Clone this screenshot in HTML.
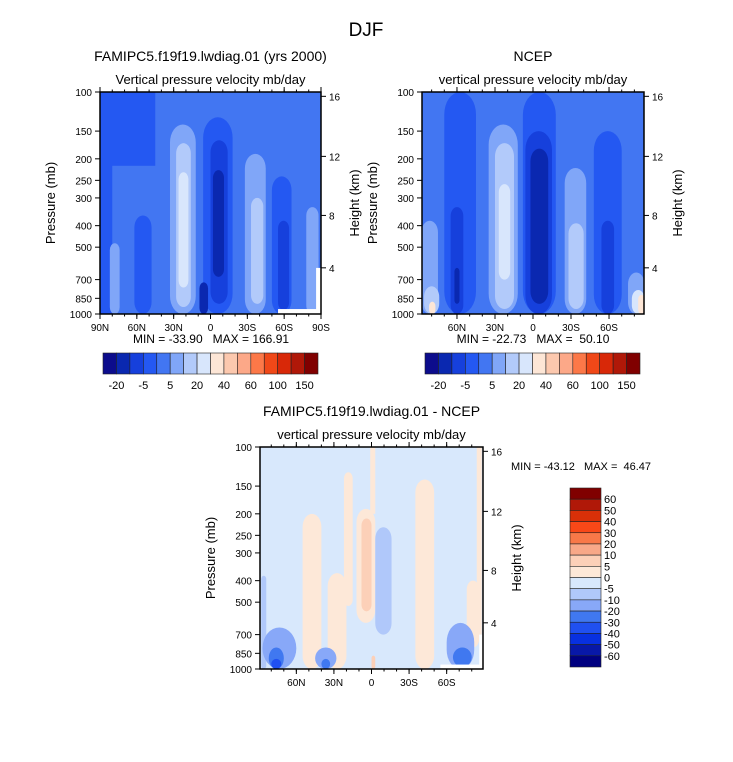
<!DOCTYPE html>
<html><head><meta charset="utf-8"><style>
html,body{margin:0;padding:0;background:#fff;}
svg{display:block;font-family:"Liberation Sans",sans-serif;}
text{white-space:pre;}
</style></head><body>
<svg id="fig" width="733" height="762" viewBox="0 0 733 762" xmlns="http://www.w3.org/2000/svg">
<text x="366" y="36" font-size="19" text-anchor="middle">DJF</text>
</svg>
<script>
// ---- data ----
const pressureTicks = [100,150,200,250,300,400,500,700,850,1000];
const heightTicks = [16,12,8,4];
const heightFrac = [0.0195,0.29,0.556,0.792];
const latTicksFull = [90,60,30,0,-30,-60,-90];
const latLabelsFull = ["90N","60N","30N","0","30S","60S","90S"];
const latTicksInner = [60,30,0,-30,-60];
const latLabelsInner = ["60N","30N","0","30S","60S"];
const absColors = ["#0c0c8c","#0a28b0","#1640dc","#2458f2","#4276f2","#80a6f8","#b2cafa","#d8e6fc","#fde6d6","#fcc8ae","#fca888","#fc7848","#f04818","#d82808","#b01808","#800000"];
const absLabels = ["-20","-5","5","20","40","60","100","150"];
const diffColors = ["#000080","#0818a8","#0830e0","#2050f0","#4078f0","#88a8f8","#b0c8fa","#d8e8fc","#fde8d8","#fcd0b8","#f8a888","#f87848","#f84818","#d83008","#b01808","#800000"];
const diffLabels = ["-60","-50","-40","-30","-20","-10","-5","0","5","10","20","30","40","50","60"];
// blobs: [latNorth, latSouth, pTop, pBottom, level, square]
const modelBlobs = [
 [90,45,100,215,3,1],[90,80,100,1000,3,1],[62,48,360,1000,3,0],[82,74,480,1000,5,0],
 [33,12,140,1000,5,0],[28,16,170,930,6,0],[26,18,230,760,7,0],
 [6,-18,130,1000,3,0],[0,-14,165,900,2,0],[-2,-11,225,680,1,0],[9,2,720,1000,1,0],
 [-28,-45,190,1000,5,0],[-33,-43,300,900,6,0],
 [-50,-66,240,1000,3,0],[-55,-64,380,960,2,0],[-78,-88,330,1000,5,0]
];
const ncepBlobs = [
 [70,45,100,1000,3,0],[65,55,330,1000,2,0],[62,58,620,900,1,0],
 [88,75,380,1000,5,0],[86,74,750,1000,6,0],[82,77,880,1000,8,0],
 [35,12,140,1000,5,0],[30,15,170,950,6,0],[27,18,260,700,7,0],
 [8,-18,100,1000,3,0],[6,-15,150,1000,2,0],[2,-12,180,900,1,0],
 [-25,-42,220,1000,5,0],[-28,-40,390,950,6,0],
 [-48,-70,150,1000,3,0],[-54,-64,380,1000,2,0],
 [-75,-88,650,1000,5,0],[-78,-88,780,1000,7,0],[-83,-88,820,1000,8,0]
];
const diffBlobs = [
 [88,84,380,1000,6,0],[87,60,650,1000,5,0],[82,70,800,1000,4,0],[80,72,900,1000,3,0],
 [55,40,200,1000,8,0],[35,20,370,1000,8,0],[22,15,130,520,8,0],
 [12,-3,190,620,8,0],[1,-3,100,200,8,1],[8,0,210,550,9,0],[0,-3,870,1000,9,0],
 [-3,-16,230,700,6,0],[45,28,800,1000,5,0],[40,33,900,1000,4,0],
 [-35,-50,140,1000,8,0],[-84,-88,100,700,8,1],[-76,-86,400,800,8,0],
 [-60,-82,620,1000,5,0],[-65,-80,800,980,4,0]
];
// ---- drawing ----
const NS="http://www.w3.org/2000/svg";
const svg=document.getElementById('fig');
function el(tag,attrs,parent){const e=document.createElementNS(NS,tag);for(const k in attrs)e.setAttribute(k,attrs[k]);(parent||svg).appendChild(e);return e;}
function txt(x,y,s,size,anchor,parent){const t=el('text',{x:x,y:y,'font-size':size,'text-anchor':anchor||'middle'},parent);t.textContent=s;return t;}

function panel(id,L,T,W,H,latMax,bgLevel,colors,blobs,title,sub,latTicks,latLabels,whiteRects){
 const g=el('g',{});
 
 
 const xs=lat=>L+(latMax-lat)/(2*latMax)*W;
 const ys=p=>T+Math.log10(p/100)*H;
 const cp=el('clipPath',{id:id+'-clip'},g);el('rect',{x:L,y:T,width:W,height:H},cp);
 const inner=el('g',{'clip-path':'url(#'+id+'-clip)'},g);
 el('rect',{x:L,y:T,width:W,height:H,fill:colors[bgLevel]},inner);
 blobs.forEach(b=>{
  const x1=xs(b[0]),x2=xs(b[1]),y1=ys(b[2]),y2=ys(b[3]);
  const w=Math.max(1,x2-x1),h=Math.max(1,y2-y1);
  const rx=b[5]?0:w/2, ry=b[5]?0:Math.min(h/2,w*0.7);
  const r=el('rect',{x:x1,y:y1,width:w,height:h,rx:rx,ry:ry,fill:colors[b[4]]},inner);
  
  
 });
 whiteRects.forEach(b=>{el('rect',{x:xs(b[0]),y:ys(b[2]),width:xs(b[1])-xs(b[0]),height:ys(b[3])-ys(b[2]),fill:'#fff'},inner);});
 el('rect',{x:L,y:T,width:W,height:H,fill:'none',stroke:'#000','stroke-width':1.5},g);
 pressureTicks.forEach(p=>{const y=ys(p);el('line',{x1:L-5,y1:y,x2:L,y2:y,stroke:'#000'},g);txt(L-8,y+4,String(p),10,'end',g);});
 const yl=txt(0,0,'Pressure (mb)',13,'middle',g);yl.setAttribute('transform','translate('+(L-45)+','+(T+H/2)+') rotate(-90)');
 
 heightTicks.forEach((z,i)=>{const y=T+heightFrac[i]*H;el('line',{x1:L+W,y1:y,x2:L+W+5,y2:y,stroke:'#000'},g);txt(L+W+8,y+4,String(z),10,'start',g);});
 const hl=txt(0,0,'Height (km)',13,'middle',g);hl.setAttribute('transform','translate('+(L+W+38)+','+(T+H/2)+') rotate(-90)');
 latTicks.forEach((lat,i)=>{const x=xs(lat);el('line',{x1:x,y1:T+H,x2:x,y2:T+H+5,stroke:'#000'},g);el('line',{x1:x,y1:T,x2:x,y2:T-5,stroke:'#000'},g);txt(x,T+H+17,latLabels[i],10,'middle',g);});
 for(let lat=-80;lat<=80;lat+=10){if(Math.abs(lat)>latMax)continue;const x=xs(lat);el('line',{x1:x,y1:T+H,x2:x,y2:T+H+2.5,stroke:'#000'},g);el('line',{x1:x,y1:T,x2:x,y2:T-2.5,stroke:'#000'},g);}
 const tt=txt(L+W/2,T-31,title,14,'middle',g);
 txt(L+W/2,T-8,sub,13,'middle',g);
}
function hbar(name,L,T,W,H,colors,labels){
 const g=el('g',{});
 
 
 const bw=W/colors.length;
 colors.forEach((c,i)=>{el('rect',{x:L+i*bw,y:T,width:bw,height:H,fill:c,stroke:'#222','stroke-width':0.6},g);});
 labels.forEach((s,i)=>{txt(L+(2*i+1)*bw,T+H+15,s,11,'middle',g);});
}
panel('model-panel',100,92,221,222,90,4,absColors,modelBlobs,'FAMIPC5.f19f19.lwdiag.01 (yrs 2000)','Vertical pressure velocity mb/day',latTicksFull,latLabelsFull,[[-55,-90,950,1000],[-86,-90,620,1000]]);
txt(211,343,'MIN = -33.90   MAX = 166.91',12);
hbar('model-colorbar',103,353,215,21,absColors,absLabels);
panel('ncep-panel',422,92,222,222,87.6,4,absColors,ncepBlobs,'NCEP','vertical pressure velocity mb/day',latTicksInner,latLabelsInner,[]);
txt(533,343,'MIN = -22.73   MAX =  50.10',12);
hbar('ncep-colorbar',425,353,215,21,absColors,absLabels);
panel('diff-panel',260,447,223,222,89,7,diffColors,diffBlobs,'FAMIPC5.f19f19.lwdiag.01 - NCEP','vertical pressure velocity mb/day',latTicksInner,latLabelsInner,[[-55,-90,955,1000],[-86,-90,700,1000]]);
txt(511,470,'MIN = -43.12   MAX =  46.47',11,'start');
(function(){const g=el('g',{});
 
 
 const L=570,T=488,W=31,H=179,n=diffColors.length,bh=H/n;
 for(let i=0;i<n;i++){el('rect',{x:L,y:T+i*bh,width:W,height:bh,fill:diffColors[n-1-i],stroke:'#222','stroke-width':0.6},g);}
 const rev=diffLabels.slice().reverse();
 rev.forEach((s,i)=>{txt(L+W+3,T+(i+1)*bh+4,s,11,'start',g);});
})();
</script>
</body></html>
